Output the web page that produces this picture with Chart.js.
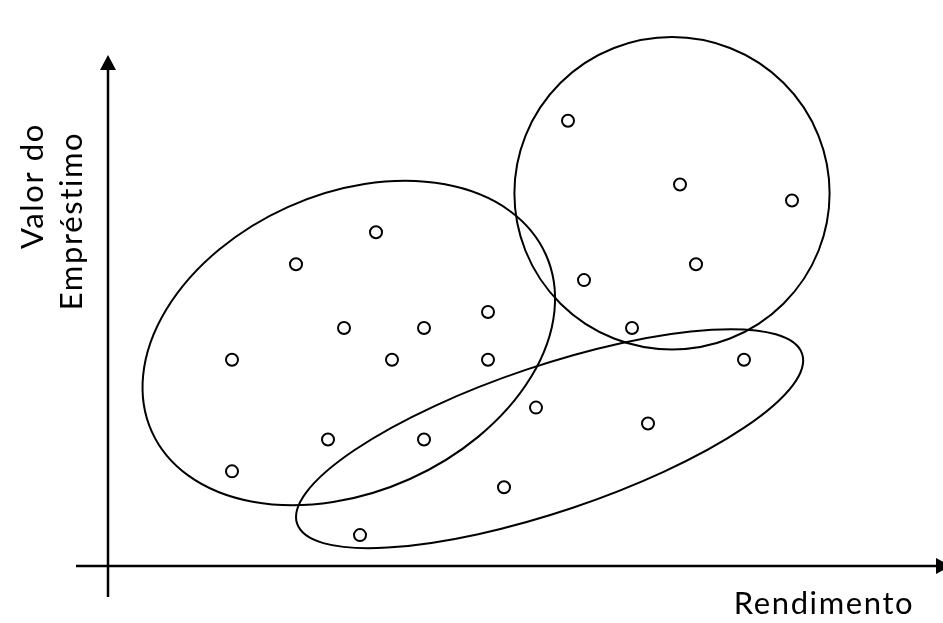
<!DOCTYPE html>
<html>
<head>
<meta charset="utf-8">
<script src="https://cdn.jsdelivr.net/npm/chart.js@4.4.1/dist/chart.umd.min.js"></script>
<style>
  html, body { margin: 0; padding: 0; background: #fff; }
  #wrap { width: 943px; height: 623px; }
</style>
</head>
<body>
<div id="wrap"><canvas id="c" width="943" height="623"></canvas></div>
<script>
// Clients: income (Rendimento) vs. loan value (Valor do Empréstimo)
const clusterAIncome = [8, 8, 12, 17, 15, 20, 18, 24, 24, 14, 20];
const clusterALoan   = [13, 6, 19, 21, 15, 15, 13, 16, 13, 8, 8];

const clusterBIncome = [16, 25, 27, 34, 40, 33];
const clusterBLoan   = [2, 5, 10, 9, 13, 15];

const clusterCIncome = [29, 36, 43, 30, 37];
const clusterCLoan   = [28, 24, 23, 18, 19];

const xAxisTitle = 'Rendimento';
const yAxisTitle = ['Valor do', 'Empréstimo'];

// Group outlines in data units: centre, half-axes, tilt (degrees)
const groupOutlines = [
  { cx: 15.3,  cy: 14.05, rx: 13.5,  ry: 9.35, deg: 24.2 },
  { cx: 35.5,  cy: 23.45, rx: 9.85,  ry: 9.8,  deg: 0 },
  { cx: 27.85, cy: 8.05,  rx: 16.65, ry: 4.57, deg: 18.6 }
];

function toPoints(xs, ys) { return xs.map((v, i) => ({ x: v, y: ys[i] })); }

const outlinePlugin = {
  id: 'groupOutlines',
  beforeDatasetsDraw(chart) {
    const { ctx, scales: { x, y } } = chart;
    const ux = x.getPixelForValue(1) - x.getPixelForValue(0);
    const uy = y.getPixelForValue(0) - y.getPixelForValue(1);
    ctx.save();
    ctx.lineWidth = 2;
    ctx.strokeStyle = '#000';
    groupOutlines.forEach(o => {
      ctx.beginPath();
      ctx.ellipse(x.getPixelForValue(o.cx), y.getPixelForValue(o.cy),
                  o.rx * ux, o.ry * uy, -o.deg * Math.PI / 180, 0, Math.PI * 2);
      ctx.stroke();
    });
    ctx.restore();
  }
};

function rotatedLabel(ctx, text, x, y) {
  ctx.save();
  ctx.translate(x, y);
  ctx.rotate(-Math.PI / 2);
  ctx.fillText(text, 0, 0);
  ctx.restore();
}

const axesPlugin = {
  id: 'crossAxes',
  afterDraw(chart) {
    const { ctx, chartArea: a } = chart;
    ctx.save();
    ctx.strokeStyle = '#000';
    ctx.fillStyle = '#000';
    ctx.lineWidth = 2.5;
    // vertical axis with arrow
    ctx.beginPath();
    ctx.moveTo(a.left, a.bottom + 31);
    ctx.lineTo(a.left, a.top + 14);
    ctx.stroke();
    ctx.beginPath();
    ctx.moveTo(a.left, a.top);
    ctx.lineTo(a.left - 8, a.top + 15);
    ctx.lineTo(a.left + 8, a.top + 15);
    ctx.closePath();
    ctx.fill();
    // horizontal axis with arrow
    ctx.beginPath();
    ctx.moveTo(a.left - 32, a.bottom);
    ctx.lineTo(a.right - 2, a.bottom);
    ctx.stroke();
    ctx.beginPath();
    ctx.moveTo(a.right + 11, a.bottom);
    ctx.lineTo(a.right - 4, a.bottom - 8);
    ctx.lineTo(a.right - 4, a.bottom + 8);
    ctx.closePath();
    ctx.fill();

    // titles
    ctx.font = '31px Lato, "Open Sans", sans-serif';
    ctx.letterSpacing = '1.6px';
    ctx.textBaseline = 'alphabetic';
    ctx.textAlign = 'center';
    ctx.fillText(xAxisTitle, 824, 614);
    rotatedLabel(ctx, yAxisTitle[0], 43, 186);
    rotatedLabel(ctx, yAxisTitle[1], 82, 221);
    ctx.restore();
  }
};

const pointStyle = {
  showLine: false,
  pointStyle: 'circle',
  pointRadius: 6,
  pointHoverRadius: 6,
  pointBorderWidth: 2,
  pointBorderColor: '#000',
  pointBackgroundColor: '#fff'
};

new Chart(document.getElementById('c'), {
  type: 'scatter',
  data: {
    datasets: [
      Object.assign({ label: 'A', data: toPoints(clusterAIncome, clusterALoan) }, pointStyle),
      Object.assign({ label: 'B', data: toPoints(clusterBIncome, clusterBLoan) }, pointStyle),
      Object.assign({ label: 'C', data: toPoints(clusterCIncome, clusterCLoan) }, pointStyle)
    ]
  },
  options: {
    responsive: false,
    animation: false,
    devicePixelRatio: 1,
    layout: { autoPadding: false, padding: { left: 108, right: 3, top: 55, bottom: 57 } },
    plugins: { legend: { display: false }, tooltip: { enabled: false } },
    scales: {
      x: { type: 'linear', display: false, min: 0.25, max: 52.25 },
      y: { type: 'linear', display: false, min: 0.0625, max: 32.125 }
    }
  },
  plugins: [outlinePlugin, axesPlugin]
});
</script>
</body>
</html>
